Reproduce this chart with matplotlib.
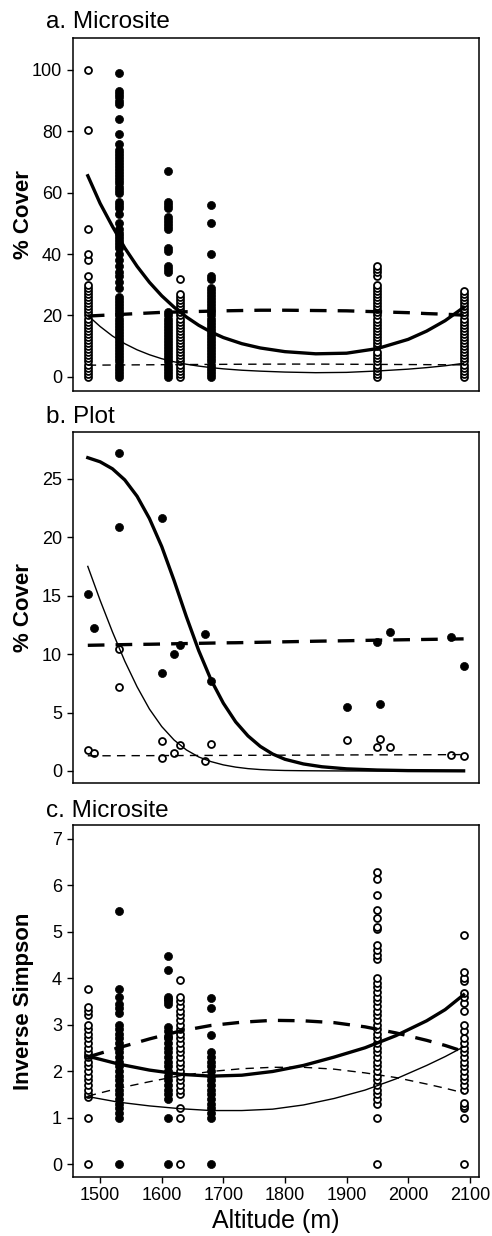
import matplotlib
matplotlib.use("Agg")
import matplotlib.pyplot as plt

plt.rcParams['font.family'] = ['Liberation Sans', 'DejaVu Sans']
plt.rcParams['lines.scale_dashes'] = False

# ---------------- a. Microsite, % cover (points per site) ----------------
a_open = {
    1480: [0, 1, 2, 3, 4, 5, 6, 7, 8, 9, 10, 11, 12, 13, 14, 15, 16, 17, 18, 19, 20,
           21, 22, 23, 24, 25, 26, 27, 28, 29, 30, 33, 38, 40, 48, 80.5, 100],
    1630: [0, 1, 2, 3, 4, 5, 6, 7, 8, 9, 10, 11, 12, 13, 14, 15, 16, 17, 18, 19, 20,
           21, 22, 23, 24, 25, 26, 27, 32],
    1950: [0, 1, 2, 3, 4, 5, 6, 7, 8, 10, 11, 12, 13, 14, 15, 16, 17, 18, 19, 20, 21,
           22, 23, 24, 25, 26, 27, 28, 29, 30, 33, 34, 35, 36],
    2090: [0, 1, 2, 3, 4, 5, 6, 7, 8, 9, 10, 11, 12, 13, 14, 15, 16, 17, 18, 19, 20,
           21, 22, 23, 24, 25, 26, 27, 28],
}
a_filled = {
    1530: [0, 1, 2, 3, 4, 5, 6, 7, 8, 9, 10, 11, 12, 13, 14, 15, 16, 17, 18, 19, 20,
           21, 22, 23, 24, 25, 26, 29, 31, 33, 34, 36, 38, 40, 42, 43, 44, 45, 46, 47,
           48, 50, 53, 55, 56, 57, 60, 61, 62, 63, 64, 65, 66, 67, 68, 69, 70, 71, 72,
           73, 74, 76, 79, 84, 89, 90, 91, 92, 93, 99],
    1610: [0, 1, 2, 3, 4, 5, 6, 7, 8, 9, 10, 11, 12, 13, 14, 15, 16, 17, 18, 19, 20,
           21, 34, 35, 36, 41, 42, 48, 49, 50, 51, 52, 55, 56, 57, 67],
    1680: [0, 1, 2, 3, 4, 5, 6, 7, 8, 9, 10, 11, 12, 13, 14, 15, 16, 17, 18, 19, 20,
           21, 22, 23, 24, 25, 26, 27, 28, 29, 32, 33, 40, 50, 56],
}
# fitted curves
a_fit_x = [1480, 1500, 1520, 1540, 1560, 1580, 1600, 1620, 1640, 1660, 1680, 1700,
           1730, 1760, 1800, 1850, 1900, 1950, 2000, 2030, 2060, 2090]
a_thick_solid = [65.5, 56.5, 49.0, 42.0, 36.0, 30.8, 26.4, 22.7, 19.5, 16.8, 14.6,
                 12.8, 10.8, 9.4, 8.2, 7.5, 7.7, 9.2, 12.2, 14.9, 18.3, 22.6]
a_thin_solid = [20.0, 16.4, 13.3, 10.8, 8.8, 7.2, 5.9, 4.9, 4.1, 3.5, 3.0, 2.6,
                2.15, 1.85, 1.55, 1.35, 1.45, 1.9, 2.5, 3.0, 3.6, 4.4]
a_thick_dash = [19.8, 20.0, 20.2, 20.4, 20.6, 20.8, 21.0, 21.1, 21.2, 21.3, 21.4,
                21.5, 21.6, 21.7, 21.7, 21.6, 21.5, 21.2, 20.9, 20.6, 20.4, 20.1]
a_thin_dash = [3.8, 3.82, 3.85, 3.87, 3.9, 3.92, 3.95, 3.97, 4.0, 4.02, 4.05, 4.07,
               4.1, 4.12, 4.15, 4.15, 4.1, 4.05, 4.0, 3.97, 3.93, 3.9]

# ---------------- b. Plot, % cover ----------------
b_filled_x = [1480, 1490, 1530, 1530, 1600, 1600, 1620, 1630, 1670, 1680, 1900, 1950,
              1955, 1970, 2070, 2090]
b_filled_y = [15.1, 12.2, 27.2, 20.9, 21.6, 8.4, 10.0, 10.8, 11.7, 7.7, 5.5, 11.0,
              5.7, 11.9, 11.5, 9.0]
b_open_x = [1480, 1490, 1530, 1530, 1600, 1600, 1620, 1630, 1670, 1680, 1900, 1950,
            1955, 1970, 2070, 2090]
b_open_y = [1.8, 1.5, 10.4, 7.2, 2.6, 1.1, 1.5, 2.2, 0.85, 2.3, 2.65, 2.05, 2.7,
            2.05, 1.4, 1.3]
b_fit_x = [1480, 1500, 1520, 1540, 1560, 1580, 1600, 1620, 1640, 1660, 1680, 1700,
           1720, 1740, 1760, 1780, 1800, 1830, 1860, 1900, 1950, 2000, 2090]
b_thick_solid = [26.8, 26.45, 25.85, 24.9, 23.5, 21.6, 19.2, 16.3, 13.2, 10.3, 7.8,
                 5.8, 4.2, 3.0, 2.1, 1.45, 1.0, 0.6, 0.36, 0.18, 0.08, 0.03, 0.01]
b_thin_solid = [17.5, 14.6, 11.9, 9.4, 7.2, 5.3, 3.8, 2.65, 1.8, 1.2, 0.8, 0.52,
                0.33, 0.2, 0.12, 0.07, 0.04, 0.02, 0.01, 0.0, 0.0, 0.0, 0.0]
b_thick_dash = [10.75, 10.77, 10.79, 10.81, 10.83, 10.84, 10.86, 10.88, 10.9, 10.92,
                10.94, 10.96, 10.97, 10.99, 11.01, 11.03, 11.05, 11.08, 11.11, 11.14,
                11.19, 11.23, 11.3]
b_thin_dash = [1.3, 1.3, 1.3, 1.31, 1.31, 1.31, 1.32, 1.32, 1.32, 1.33, 1.33, 1.33,
               1.34, 1.34, 1.34, 1.35, 1.35, 1.35, 1.36, 1.37, 1.38, 1.38, 1.4]

# ---------------- c. Microsite, inverse Simpson ----------------
c_open = {
    1480: [0, 1.0, 1.45, 1.5, 1.6, 1.7, 1.8, 1.9, 2.0, 2.1, 2.2, 2.3, 2.35, 2.4, 2.5,
           2.6, 2.7, 2.8, 2.9, 3.0, 3.2, 3.3, 3.38, 3.77],
    1630: [0, 1.0, 1.21, 1.5, 1.6, 1.7, 1.8, 1.9, 2.0, 2.1, 2.2, 2.3, 2.4, 2.5, 2.6,
           2.7, 2.8, 2.9, 3.0, 3.1, 3.2, 3.3, 3.4, 3.5, 3.6, 3.95],
    1950: [0, 1.0, 1.3, 1.4, 1.5, 1.6, 1.7, 1.8, 1.9, 2.0, 2.1, 2.2, 2.3, 2.4, 2.5,
           2.6, 2.7, 2.8, 2.9, 3.0, 3.1, 3.2, 3.3, 3.4, 3.5, 3.6, 3.7, 3.8, 3.9, 4.0,
           4.4, 4.5, 4.6, 4.7, 5.05, 5.1, 5.28, 5.46, 5.78, 6.14, 6.27],
    2090: [0, 1.0, 1.2, 1.25, 1.31, 1.6, 1.7, 1.8, 1.9, 2.0, 2.1, 2.2, 2.3, 2.4, 2.5,
           2.6, 2.7, 2.85, 3.0, 3.28, 3.46, 3.6, 3.68, 3.93, 4.0, 4.14, 4.93],
}
c_filled = {
    1530: [0, 1.0, 1.1, 1.2, 1.3, 1.4, 1.5, 1.6, 1.7, 1.8, 1.9, 2.0, 2.1, 2.2, 2.3,
           2.4, 2.5, 2.6, 2.7, 2.8, 2.9, 3.0, 3.25, 3.35, 3.45, 3.6, 3.77, 5.45],
    1610: [0, 1.0, 1.4, 1.5, 1.6, 1.7, 1.8, 1.9, 2.0, 2.1, 2.2, 2.3, 2.4, 2.5, 2.6,
           2.7, 2.75, 2.85, 2.95, 3.45, 3.5, 3.55, 3.6, 4.17, 4.48],
    1680: [0, 1.0, 1.1, 1.2, 1.3, 1.4, 1.5, 1.6, 1.7, 1.8, 1.9, 2.0, 2.1, 2.2, 2.3,
           2.4, 2.78, 3.36, 3.58],
}
c_fit_x = [1480, 1530, 1580, 1630, 1680, 1730, 1780, 1830, 1880, 1930, 1980, 2030,
           2060, 2090]
c_thick_solid = [2.32, 2.15, 2.02, 1.93, 1.89, 1.91, 1.99, 2.12, 2.3, 2.5, 2.76,
                 3.08, 3.32, 3.64]
c_thin_solid = [1.45, 1.33, 1.25, 1.19, 1.15, 1.15, 1.18, 1.27, 1.41, 1.59, 1.83,
                2.12, 2.31, 2.52]
c_thick_dash = [2.3, 2.5, 2.69, 2.86, 2.98, 3.05, 3.09, 3.08, 3.04, 2.95, 2.82, 2.66,
                2.55, 2.42]
c_thin_dash = [1.46, 1.63, 1.77, 1.9, 1.99, 2.05, 2.08, 2.08, 2.04, 1.96, 1.86, 1.72,
               1.63, 1.53]

panels = [
    dict(title="a. Microsite", ylabel="% Cover", ylim=(-4.6, 110.4),
         yticks=[0, 20, 40, 60, 80, 100], rect=[0.1484, 0.6837, 0.8252, 0.2856],
         title_y=0.9773),
    dict(title="b. Plot", ylabel="% Cover", ylim=(-1.03, 29.0),
         yticks=[0, 5, 10, 15, 20, 25], rect=[0.1484, 0.3665, 0.8252, 0.2840],
         title_y=0.6578),
    dict(title="c. Microsite", ylabel="Inverse Simpson", ylim=(-0.28, 7.29),
         yticks=[0, 1, 2, 3, 4, 5, 6, 7], rect=[0.1484, 0.0477, 0.8252, 0.2848],
         title_y=0.3390),
]

fig = plt.figure(figsize=(4.92, 12.36), dpi=100)

open_kw = dict(ls='none', marker='o', ms=5.0, mfc='white', mec='black', mew=1.3,
               zorder=2)
fill_kw = dict(ls='none', marker='o', ms=5.8, mfc='black', mec='black', mew=0.5,
               zorder=2)
thick = dict(color='black', lw=2.4, zorder=4)
thin = dict(color='black', lw=1.0, zorder=4)
thick_dashes = (12, 8)
thin_dashes = (6, 4.5)

axes = []
for p in panels:
    ax = fig.add_axes(p['rect'])
    axes.append(ax)
    ax.set_xlim(1456, 2115)
    ax.set_ylim(*p['ylim'])
    ax.set_yticks(p['yticks'])
    ax.set_ylabel(p['ylabel'], fontsize=16, fontweight='bold')
    ax.yaxis.set_label_coords(-0.095, 0.5)
    ax.tick_params(axis='y', labelsize=13, length=4, width=1, pad=4)
    for s in ax.spines.values():
        s.set_linewidth(1.1)
    fig.text(0.093, p['title_y'], p['title'], fontsize=17.5, va='baseline', ha='left')

ax_a, ax_b, ax_c = axes

# panel a
for alt, vals in a_open.items():
    ax_a.plot([alt] * len(vals), vals, **open_kw)
for alt, vals in a_filled.items():
    ax_a.plot([alt] * len(vals), vals, **fill_kw)
ax_a.plot(a_fit_x, a_thick_solid, **thick)
ax_a.plot(a_fit_x, a_thin_solid, **thin)
ax_a.plot(a_fit_x, a_thick_dash, dashes=thick_dashes, **thick)
ax_a.plot(a_fit_x, a_thin_dash, dashes=thin_dashes, **thin)

# panel b
ax_b.plot(b_filled_x, b_filled_y, **fill_kw)
ax_b.plot(b_open_x, b_open_y, **open_kw)
ax_b.plot(b_fit_x, b_thick_solid, **thick)
ax_b.plot(b_fit_x, b_thin_solid, **thin)
ax_b.plot(b_fit_x, b_thick_dash, dashes=thick_dashes, **thick)
ax_b.plot(b_fit_x, b_thin_dash, dashes=thin_dashes, **thin)

# panel c
for alt, vals in c_open.items():
    ax_c.plot([alt] * len(vals), vals, **open_kw)
for alt, vals in c_filled.items():
    ax_c.plot([alt] * len(vals), vals, **fill_kw)
ax_c.plot(c_fit_x, c_thick_solid, **thick)
ax_c.plot(c_fit_x, c_thin_solid, **thin)
ax_c.plot(c_fit_x, c_thick_dash, dashes=thick_dashes, **thick)
ax_c.plot(c_fit_x, c_thin_dash, dashes=thin_dashes, **thin)

for ax in (ax_a, ax_b):
    ax.set_xticks([])
ax_c.set_xticks([1500, 1600, 1700, 1800, 1900, 2000, 2100])
ax_c.tick_params(axis='x', labelsize=13, length=4, width=1, pad=3)
ax_c.set_xlabel("Altitude (m)", fontsize=18, labelpad=4)

fig.savefig("out.png", dpi=100)
